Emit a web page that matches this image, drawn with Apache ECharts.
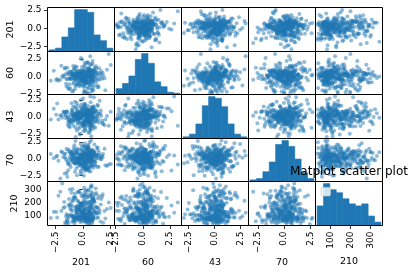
<!DOCTYPE html>
<html><head><meta charset="utf-8">
<script src="https://cdn.jsdelivr.net/npm/echarts@6/dist/echarts.min.js"></script>
<style>html,body{margin:0;padding:0;background:#fff}#c{width:415px;height:273px}</style>
</head><body><div id="c"></div>
<script>
const names = ['201','60','43','70','210'];

const v201 = [
0.12,-0.45,0.88,-1.52,0.31,0.67,-0.08,1.21,-0.63,0.45,
-0.21,0.74,1.83,-0.97,0.05,0.39,-0.52,0.93,0.18,-1.18,
0.56,-0.33,-0.02,1.37,0.81,-0.71,0.27,-1.64,0.62,-0.14,
-2.21,0.48,0.09,-0.39,1.05,0.71,-0.88,0.22,0.59,-0.26,
0.36,-0.58,1.66,0.14,-0.07,0.83,-1.29,0.51,-0.44,0.95,
-0.11,0.66,-0.82,0.29,1.12,-1.41,0.41,0.02,-0.35,0.77,
0.19,-0.61,0.54,2.03,-0.17,0.87,-1.05,0.33,-0.49,0.69,
-0.92,0.24,0.61,-0.29,1.44,0.07,-1.77,0.46,0.85,-0.56,
0.38,-0.04,0.73,-1.12,0.16,1.28,-0.68,0.52,-0.23,0.91,
-0.41,0.63,-2.63,0.26,0.97,-0.13,0.44,-0.79,1.74,0.11,
-0.66,0.35,0.79,-1.36,0.04,0.58,-0.19,1.16,-0.47,0.68,
0.23,-0.86,0.49,1.52,-0.09,0.72,-1.22,0.13,-0.54,0.89,
-0.31,0.57,2.34,-0.74,0.28,0.96,-1.48,0.42,-0.01,0.64,
0.17,-0.95,0.82,-0.24,1.09,-1.87,0.37,0.55,-0.62,0.06,
0.76,-0.38,0.21,1.31,-1.01,0.47,-0.15,0.86,-2.04,0.32,
-0.51,0.99,0.08,-0.28,0.65,1.59,-0.77,0.25,-1.15,0.53,
0.43,-0.06,0.78,-1.31,0.15,1.19,-0.43,0.61,-0.89,0.34,
-0.18,0.92,-1.58,0.03,0.7,-0.34,1.41,0.2,-0.67,0.5,
-1.08,0.4,0.84,-0.22,1.96,-0.59,0.1,0.63,-0.99,0.3,
0.75,-0.12,-2.41,0.55,1.02,-0.46,0.19,-0.81,0.68,1.25,
-0.36,0.6,-1.25,0.14,0.8,-0.03,1.48,-0.72,0.38,-0.49,
0.94,-1.69,0.27,0.57,-0.2,1.14,-0.55,0.45,0.01,-0.93,
0.71,2.18,-0.27,0.36,-1.39,0.88,0.09,-0.64,0.52,1.33,
-0.1,-0.84,0.66,0.24,-1.95,0.79,-0.37,1.07,0.16,-0.6,
0.48,-2.9,0.98,-0.16,0.31,-0.76,1.62,0.05,-1.03,0.58,
0.22,-0.42,0.74,-1.19,1.23,-0.05,0.41,-0.7,0.9,0.12,
-1.46,0.67,-0.3,0.35,1.79,-0.53,0.18,0.83,-0.91,0.44,
-0.25,1.0,-1.33,0.59,0.07,-0.48,2.52,0.29,-0.78,0.62,
0.13,-1.1,0.86,-0.08,0.5,-0.65,1.36,0.26,-1.6,0.73,
-0.32,0.47,1.11,-0.87,0.02,0.69,-2.33,0.39,0.96,-0.14
];
const v60 = [
-0.32,0.21,0.77,-1.05,0.04,-0.58,1.32,0.39,-0.19,-1.62,
0.63,-0.41,0.12,-2.18,0.86,-0.07,0.33,-0.88,1.91,-0.27,
0.45,-1.41,0.18,-0.52,0.69,0.01,-0.95,1.12,-0.14,0.29,
-0.63,0.92,-2.31,0.36,-0.22,0.07,1.48,-0.76,0.55,-0.36,
0.15,-1.19,0.72,-0.45,2.41,-0.02,0.41,-1.73,0.26,-0.6,
0.84,-0.11,-0.83,0.5,0.09,1.21,-0.49,-1.33,0.31,-0.25,
-0.69,0.6,0.02,-1.98,0.47,1.79,-0.3,0.19,-1.09,0.78,
0.24,-0.55,0.95,-0.17,-1.52,0.38,0.1,1.03,-0.4,0.57,
-2.39,0.13,-0.71,0.66,0.35,-0.2,1.39,-0.98,0.05,-0.47,
0.42,-1.25,0.81,-0.09,0.28,-0.64,2.05,0.16,-0.35,0.71,
-0.53,0.23,-1.6,0.58,0.0,1.17,-0.29,-0.86,0.44,-0.13,
0.9,-2.08,0.32,-0.42,0.65,0.11,-1.14,1.56,-0.23,0.48,
-0.75,0.2,3.21,-0.38,0.06,0.74,-1.45,0.37,-0.16,0.99,
-0.57,0.27,-1.91,0.53,1.28,-0.04,-0.92,0.4,0.14,-0.31,
0.82,-0.66,0.08,-1.3,0.61,1.86,-0.21,0.34,-0.5,-2.27,
0.17,0.97,-0.44,-1.03,0.52,0.03,1.08,-0.26,-1.7,0.43,
-0.12,0.7,-0.8,0.25,-0.37,1.44,0.09,-1.22,0.56,-0.06,
2.63,-0.59,0.3,-1.5,0.76,-0.18,0.46,-0.9,0.12,1.25,
-0.43,0.62,-2.12,0.22,-0.28,0.88,-1.17,0.39,0.0,-0.68,
1.67,0.15,-0.52,0.73,-1.38,0.28,-0.1,1.0,-0.79,0.51,
-0.24,0.35,-1.84,0.67,0.05,-0.61,1.15,-0.33,0.19,-1.01,
0.83,-0.15,0.44,-2.42,0.59,-0.46,1.36,0.08,-0.73,0.27,
-0.08,0.94,-1.27,0.18,-0.39,2.2,0.49,-0.56,0.02,-1.57,
0.68,-0.2,0.3,-0.97,1.52,0.13,-0.48,0.79,-2.01,0.36,
0.04,-0.65,0.57,-1.11,1.94,-0.27,0.41,-0.84,0.16,-0.03,
-1.43,0.75,0.22,-0.34,1.1,-0.7,0.5,-1.79,0.07,0.63,
-0.41,2.88,0.26,-0.94,0.46,-0.14,1.3,-1.2,0.33,-0.54,
0.85,-0.01,-1.66,0.54,-0.3,0.11,1.61,-0.87,0.38,-0.19,
-2.2,0.64,0.01,-0.6,0.92,-1.35,0.24,-0.09,1.22,-0.45,
0.31,-0.77,0.69,-1.06,0.14,1.73,-0.37,0.45,-1.93,0.06
];
const v43 = [
0.35,-0.82,1.14,-0.21,0.58,-1.47,0.03,0.91,-0.44,1.62,
-0.09,0.27,-1.05,0.73,-2.14,0.48,-0.31,1.33,0.12,-0.67,
0.86,-0.15,-1.36,0.41,0.19,2.22,-0.55,0.66,-0.92,0.05,
-0.38,1.02,0.29,-1.71,0.54,-0.03,1.48,-0.74,0.22,-2.61,
0.79,-0.27,0.14,-1.13,1.25,0.45,-0.48,0.96,-0.12,-0.86,
1.81,0.08,-0.61,0.37,-1.58,0.69,0.01,2.71,-0.35,0.52,
-1.22,0.17,0.88,-0.41,-0.06,1.39,-0.97,0.31,0.62,-1.94,
0.25,-0.7,1.09,-0.18,0.44,-1.29,0.76,0.1,-0.52,2.05,
-0.24,0.59,-1.02,0.33,1.56,-0.63,0.07,-2.37,0.83,-0.33,
0.4,-0.8,1.21,0.16,-1.41,0.71,-0.11,0.5,-0.59,1.71,
-0.46,0.93,0.02,-1.18,0.64,-0.29,1.42,-0.77,0.21,-1.66,
0.55,0.13,-0.94,2.38,-0.16,0.81,-0.5,0.36,-2.02,0.99,
-0.07,0.47,-1.32,0.26,1.15,-0.62,0.74,-0.22,-1.0,0.6,
1.93,-0.37,0.09,-1.51,0.87,-0.13,0.32,-0.84,1.28,0.18,
-2.86,0.67,-0.42,0.04,1.05,-0.69,0.43,-1.24,0.15,-0.26,
0.78,2.91,-0.56,0.24,-1.85,0.51,-0.01,1.35,-0.89,0.38,
-0.19,0.97,-1.12,0.06,0.61,-0.45,1.66,-0.73,0.28,-1.44,
0.84,-0.08,0.2,-0.98,2.15,0.42,-0.36,0.7,-1.61,0.11,
-0.6,1.18,-0.23,0.46,-1.26,0.0,0.89,-2.25,0.57,-0.4,
1.45,-0.14,0.3,-0.78,0.65,-1.07,1.87,0.19,-0.53,0.8,
-0.3,0.49,-1.39,1.01,-0.04,0.23,-0.88,1.52,-0.58,0.37,
-1.76,0.72,0.07,-0.47,2.49,-0.2,0.56,-1.15,0.34,0.92,
-0.66,0.14,-2.48,0.63,-0.1,1.23,-0.95,0.4,-0.28,1.77,
0.03,-1.3,0.85,-0.54,0.27,1.11,-0.71,-0.02,-1.89,0.53,
0.75,-0.39,1.58,-1.04,0.2,-0.17,0.94,-0.64,2.02,-1.2,
0.45,-0.25,0.68,-1.55,0.1,1.3,-0.81,0.39,-0.05,-1.09,
0.82,3.02,-0.43,0.16,-0.91,1.07,-1.68,0.58,-0.34,0.25,
-0.12,1.4,-0.75,0.48,-1.34,0.05,0.77,-2.07,0.31,-0.57,
1.19,-0.21,0.61,-0.99,0.12,-2.96,1.61,-0.49,0.35,-1.16,
0.7,-0.06,1.0,-0.68,0.22,-1.48,1.96,-0.32,0.54,-0.85
];
const v70 = [
0.22,-0.61,1.05,-0.13,0.47,-1.26,0.81,0.04,-0.39,1.47,
-0.88,0.33,0.69,-0.24,1.88,-1.58,0.12,0.56,-0.47,0.95,
0.28,-0.05,-1.07,1.21,0.41,-0.71,0.63,-2.21,0.17,1.34,
-0.32,0.78,-0.92,0.09,2.11,-0.18,0.52,-1.41,0.86,-0.55,
0.37,1.13,-0.08,-1.83,0.6,0.25,-0.66,1.72,-0.28,0.45,
-1.14,0.93,0.01,-0.43,0.71,-2.7,1.29,0.15,-0.76,0.38,
0.84,-0.2,1.55,-1.0,0.3,-0.35,0.67,-1.67,1.08,0.07,
-0.51,0.49,2.46,-0.15,-1.22,0.76,0.2,-0.82,1.38,-0.02,
0.58,-1.49,0.11,0.99,-0.4,1.63,-0.64,0.34,-2.09,0.73,
-0.26,1.17,0.05,-0.97,0.62,-0.11,1.93,-0.58,0.43,-1.33,
0.89,-0.09,0.27,-0.79,1.24,-1.9,0.54,0.14,-0.45,1.01,
-0.3,0.66,-1.17,0.39,1.79,-0.68,0.02,0.82,-2.47,0.48,
-0.14,1.09,-0.86,0.23,0.61,-1.37,1.42,-0.23,0.35,-0.6,
2.28,0.13,-1.03,0.7,-0.37,0.97,-1.61,0.06,1.31,-0.5,
0.44,-0.17,0.79,-1.25,0.18,1.57,-0.73,0.51,-2.95,0.0,
-0.42,1.15,0.31,-0.89,0.65,-0.06,1.99,-1.52,0.4,-0.27,
0.92,-0.95,0.16,1.36,-0.56,0.59,-1.12,0.26,-0.12,1.7,
-1.77,0.36,0.75,-0.33,1.02,-0.63,0.08,-1.3,2.62,0.53,
-0.21,0.87,-0.83,0.19,1.46,-1.45,0.42,-0.04,0.68,-0.7,
1.2,-2.33,0.29,-0.48,0.96,0.1,-1.06,1.61,-0.19,0.55,
-0.62,0.32,1.11,-1.2,0.46,-0.1,0.83,-1.95,0.2,1.51,
-0.34,0.64,-0.85,0.03,2.18,-0.53,0.72,-1.4,0.37,0.98,
-0.16,-1.09,0.57,1.27,-0.44,0.24,-2.55,0.8,-0.01,1.66,
-0.74,0.42,-1.28,0.13,1.06,-0.25,0.5,-0.93,1.83,0.09,
-1.62,0.7,-0.38,0.28,1.4,-0.67,0.16,-1.15,0.91,-0.07,
0.6,-0.49,2.71,-0.9,0.35,1.19,-1.35,0.04,-0.29,0.85,
-2.14,0.47,1.33,-0.59,0.21,-0.13,1.74,-1.02,0.63,-0.36,
0.12,1.0,-1.71,0.39,-0.22,0.77,-0.8,1.49,0.06,-0.46,
0.94,-1.23,0.3,-0.03,2.02,-0.69,0.53,-1.5,0.18,1.12,
-0.41,0.66,-0.99,1.25,0.01,-1.87,0.45,-0.27,0.88,-0.57
];
const v210 = [
142,78,231,96,187,64,118,273,85,155,
102,209,47,136,81,262,171,93,119,298,
74,148,195,88,56,239,111,166,83,128,
251,99,176,71,134,315,90,203,62,147,
115,82,227,159,94,44,184,123,277,76,
138,205,87,107,168,59,242,97,152,331,
72,125,191,80,266,113,145,68,215,101,
173,86,39,132,249,92,160,290,75,121,
198,104,69,179,140,84,233,110,53,157,
284,95,130,77,211,167,89,61,246,117,
150,73,222,98,183,66,126,306,91,163,
108,236,50,139,79,258,175,100,120,270,
70,144,200,87,58,228,114,170,82,131,
256,103,181,72,135,343,94,207,63,149,
112,85,219,161,96,41,189,124,281,78,
141,213,88,109,164,57,244,99,154,296,
74,127,193,81,264,116,146,67,217,105,
177,84,37,133,253,93,158,287,76,122,
196,106,71,180,137,86,238,111,55,156,
279,97,129,79,210,169,90,60,248,118,
146,75,226,95,186,65,120,268,88,153,
104,204,48,138,83,260,172,92,117,302,
73,151,197,86,54,234,113,165,80,127,
247,101,178,69,136,322,89,201,61,143,
114,84,224,162,95,43,185,125,275,77,
139,208,86,106,167,58,240,98,150,311,
71,124,190,82,263,112,148,66,214,103,
174,85,40,131,250,91,159,293,74,123,
199,105,68,182,141,83,230,109,52,155,
283,96,128,76,212,168,87,62,245,116
];

// data extent (histogram range) per variable
const dataMin = [-3.056, -2.454, -3.045, -3.248, 35];
const dataMax = [2.716, 3.404, 3.145, 2.848, 351];

// histogram bar heights (10 bins each), read from the diagonal
const hist201 = [5, 10, 43, 70, 124, 124, 116, 49, 32, 10];
const hist60  = [18, 34, 57, 108, 126, 96, 39, 24, 7, 4];
const hist43  = [5, 13, 43, 97, 124, 119, 94, 43, 13, 5];
const hist70  = [5, 9, 30, 60, 114, 126, 108, 69, 27, 9];
const hist210 = [58, 124, 106, 97, 79, 64, 58, 64, 28, 10];

const ticksStd = [-2.5, 0, 2.5];
const ticks210 = [100, 200, 300];

const vars = [v201, v60, v43, v70, v210];
const hists = [hist201, hist60, hist43, hist70, hist210];
const ticks = [ticksStd, ticksStd, ticksStd, ticksStd, ticks210];

const colEdges = [47.5, 114.5, 181.5, 248.5, 315.5, 382.5];
const rowEdges = [7.5, 51.5, 94.5, 138.5, 181.5, 225.5];
const C0 = '#1f77b4';
const FONT = 'DejaVu Sans';

function fmt(j) {
  return function (v) {
    if (j === 4) return String(Math.round(v));
    const s = Math.abs(v).toFixed(1);
    return v < 0 ? '\u2212' + s : s;
  };
}
const axMin = dataMin.map((m, i) => m - (dataMax[i] - m) * 0.025);
const axMax = dataMax.map((m, i) => m + (m - dataMin[i]) * 0.025);

const grid = [], xAxis = [], yAxis = [], series = [];
for (let i = 0; i < 5; i++) {
  for (let j = 0; j < 5; j++) {
    const k = grid.length;
    grid.push({
      left: colEdges[j], top: rowEdges[i],
      width: colEdges[j + 1] - colEdges[j], height: rowEdges[i + 1] - rowEdges[i],
      show: true, borderColor: '#000', borderWidth: 1, backgroundColor: 'transparent', z: 5
    });
    const bottom = i === 4, left = j === 0;
    xAxis.push({
      type: 'value', gridIndex: k, min: axMin[j], max: axMax[j],
      axisLine: { show: false }, splitLine: { show: false },
      axisTick: { show: bottom, customValues: ticks[j], length: 3.5, lineStyle: { color: '#000', width: 0.8 } },
      axisLabel: { show: bottom, customValues: ticks[j], rotate: 90, margin: 6, formatter: fmt(j),
                   fontSize: 9, color: '#000', fontFamily: FONT },
      name: bottom ? names[j] : '', nameLocation: 'middle', nameGap: 31,
      nameTextStyle: { fontSize: 9.5, color: '#000', fontFamily: FONT, verticalAlign: 'top' }
    });
    const yAxisLabelCfg = {
      axisLine: { show: false }, splitLine: { show: false },
      axisTick: { show: left, customValues: ticks[i], length: 3.5, lineStyle: { color: '#000', width: 0.8 } },
      axisLabel: { show: left, customValues: ticks[i], margin: 6, formatter: fmt(i),
                   fontSize: 9, color: '#000', fontFamily: FONT },
      name: left ? names[i] : '', nameLocation: 'middle', nameGap: 28,
      nameTextStyle: { fontSize: 9.5, color: '#000', fontFamily: FONT }
    };
    if (i === j) {
      const hy = yAxis.length;
      yAxis.push({ type: 'value', gridIndex: k, position: 'right', min: 0, max: Math.max(...hists[i]) * 1.05, show: false });
      if (left) {
        yAxis.push(Object.assign({ type: 'value', gridIndex: k, position: 'left', min: axMin[i], max: axMax[i] }, yAxisLabelCfg));
      }
      const w = (dataMax[i] - dataMin[i]) / hists[i].length;
      const d = hists[i].map((c, b) => [dataMin[i] + b * w, dataMin[i] + (b + 1) * w, c]);
      series.push({
        type: 'custom', xAxisIndex: k, yAxisIndex: hy, data: d, silent: true,
        encode: { x: [0, 1], y: 2 },
        renderItem: function (params, api) {
          const p0 = api.coord([api.value(0), api.value(2)]);
          const p1 = api.coord([api.value(1), 0]);
          return { type: 'rect', shape: { x: p0[0], y: p0[1], width: p1[0] - p0[0], height: p1[1] - p0[1] },
                   style: { fill: C0, stroke: C0, lineWidth: 0.6 } };
        }
      });
    } else {
      const yi = yAxis.length;
      yAxis.push(Object.assign({ type: 'value', gridIndex: k, min: axMin[i], max: axMax[i] }, yAxisLabelCfg));
      series.push({
        type: 'scatter', xAxisIndex: k, yAxisIndex: yi, silent: true,
        symbolSize: 4, itemStyle: { color: C0, opacity: 0.5 },
        data: vars[j].map((x, n) => [x, vars[i][n]])
      });
    }
  }
}

const chart = echarts.init(document.getElementById('c'), null, { renderer: 'canvas' });
chart.setOption({
  animation: false,
  backgroundColor: '#fff',
  title: {
    text: 'Matplot scatter plot', left: (colEdges[4] + colEdges[5]) / 2, top: 166, textAlign: 'center', padding: 0,
    textStyle: { fontSize: 12, fontWeight: 'normal', color: '#000', fontFamily: FONT }, z: 20
  },
  grid, xAxis, yAxis, series,
  graphic: [{
    type: 'rect', left: colEdges[4] + 5.5, top: rowEdges[4] + 5.5, z: 30,
    shape: { width: 9, height: 8.5, r: 1.5 },
    style: { fill: 'rgba(255,255,255,0.8)', stroke: '#cccccc', lineWidth: 0.8 }
  }]
});
</script></body></html>
